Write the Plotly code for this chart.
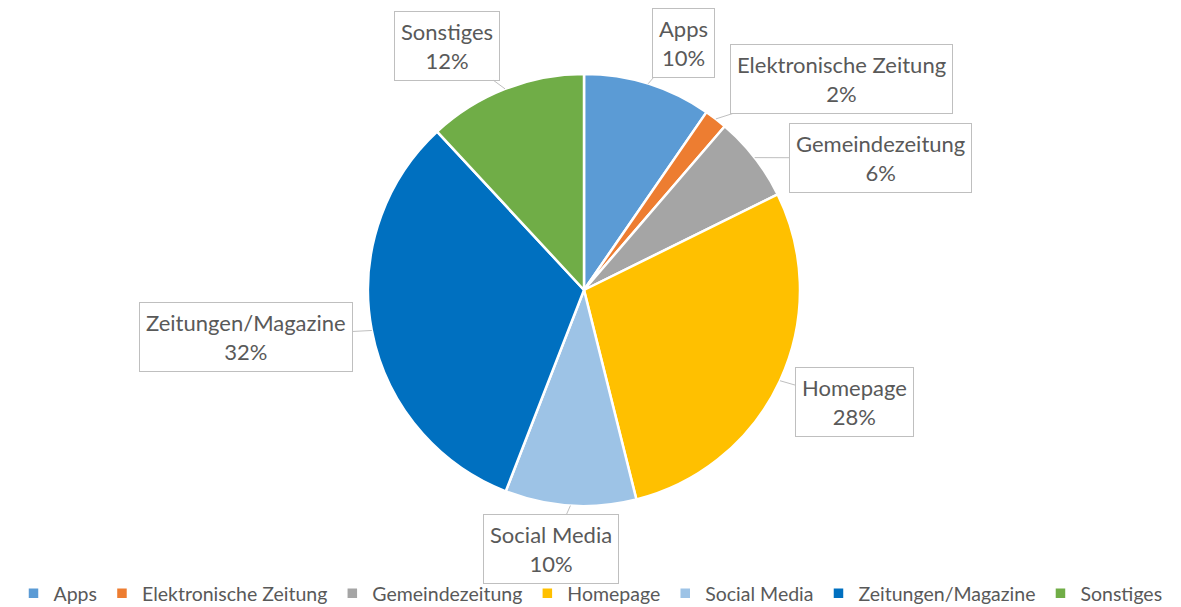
import math
import plotly.graph_objects as go

# slices, clockwise from 12 o'clock
labels = ["Apps", "Elektronische Zeitung", "Gemeindezeitung", "Homepage",
          "Social Media", "Zeitungen/Magazine", "Sonstiges"]
values = [9.6, 1.7, 6.4, 28.4, 9.8, 32.2, 11.9]
colors = ["#5B9BD5", "#ED7D31", "#A5A5A5", "#FFC000", "#9DC3E6", "#0070C0", "#70AD47"]

# callout box centres (pixels)
box_pos = [(683, 43), (841, 79), (880, 158), (854, 402), (551, 549), (246, 337), (447, 46)]

W, H = 1181, 607
cx, cy, r = 584, 290, 216

fig = go.Figure(go.Pie(
    labels=labels,
    values=values,
    sort=False,
    direction="clockwise",
    rotation=0,
    marker=dict(colors=colors, line=dict(color="white", width=2.5)),
    textinfo="none",
    hoverinfo="label+percent",
    domain=dict(x=[(cx - r) / W, (cx + r) / W], y=[(H - cy - r) / H, (H - cy + r) / H]),
))

total = sum(values)
cum = 0
for lab, val, (bx, by) in zip(labels, values, box_pos):
    mid = (cum + val / 2) / total * 2 * math.pi
    cum += val
    tx = cx + r * math.sin(mid)
    ty = cy - r * math.cos(mid)
    fig.add_annotation(
        x=tx / W, y=1 - ty / H, xref="paper", yref="paper",
        ax=bx - tx, ay=by - ty,
        text=f"{lab}<br>{round(val / total * 100)}%",
        showarrow=True, arrowhead=0, arrowwidth=1, arrowcolor="#BFBFBF",
        bordercolor="#BFBFBF", borderwidth=1, borderpad=6, bgcolor="white",
        font=dict(family="Lato", size=22, color="#595959"),
        align="center",
    )

fig.update_layout(
    width=W, height=H,
    margin=dict(l=0, r=0, t=0, b=0, autoexpand=False),
    paper_bgcolor="white",
    showlegend=True,
    legend=dict(orientation="h", x=0.5, xanchor="center", y=-0.01, yanchor="bottom",
                font=dict(family="Lato", size=19.5, color="#595959"),
                itemwidth=30, traceorder="normal"),
)

# drop the default page margin so the figure sits at the window's corner
fig.write_html("out.html", config={"displayModeBar": False},
               post_script="document.body.style.margin='0';")
